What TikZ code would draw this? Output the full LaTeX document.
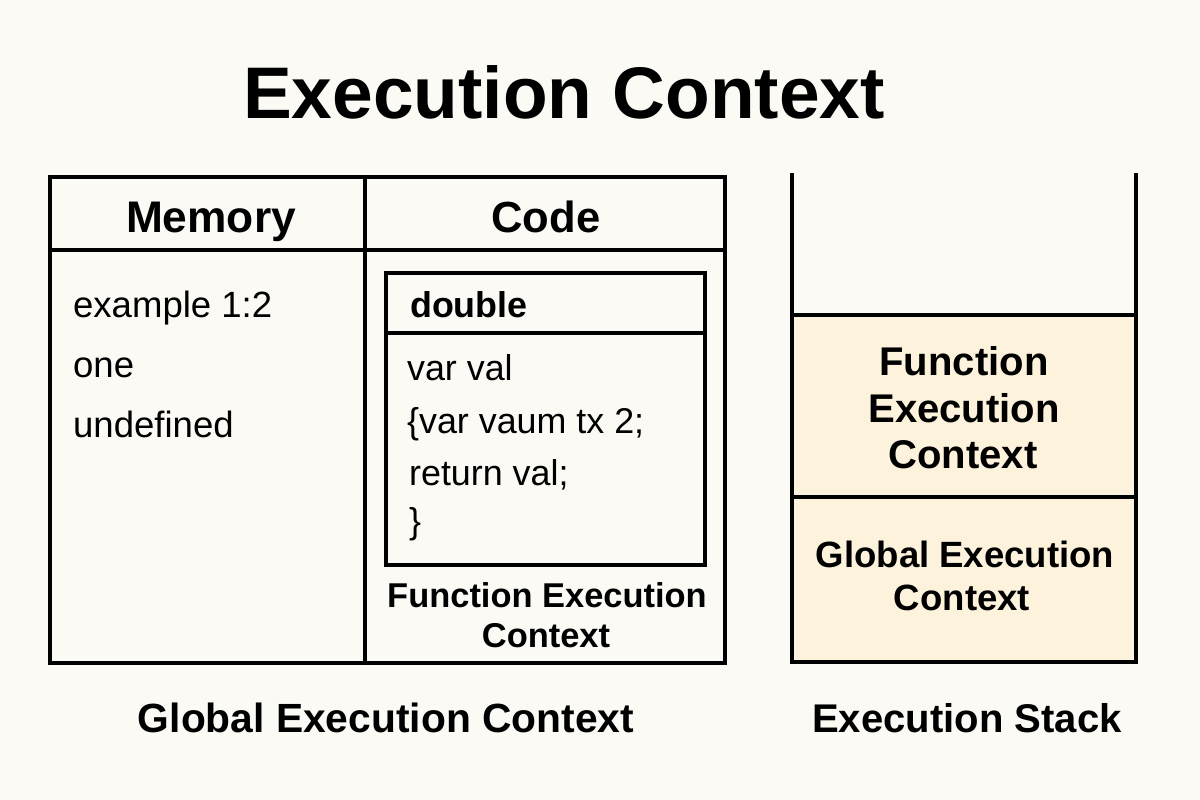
\documentclass[tikz,border=0pt]{standalone}
\usepackage{fontspec}
\setmainfont{Liberation Sans}
\definecolor{bg}{HTML}{FBFAF5}
\definecolor{stackfill}{HTML}{FDF2DC}
\tikzset{
  frame/.style={draw=black, line width=4.3pt},
  stackline/.style={draw=black, line width=5pt},
  txt/.style={inner sep=0pt, anchor=base},
  ltxt/.style={inner sep=0pt, anchor=base west},
}
\begin{document}
\begin{tikzpicture}[x=0.05cm,y=-0.05cm]
\useasboundingbox (0,0) rectangle (1200,800);
\fill[bg] (0,0) rectangle (1200,800);
\node[txt, font=\bfseries\fontsize{104}{120}\selectfont] (title) at (564,118) {Execution Context};
% main table
\draw[frame] (50,177) rectangle (725,663);
\draw[frame] (50,250) -- (725,250);
\draw[frame] (365,177) -- (365,663);
\node[txt, font=\bfseries\fontsize{63}{72}\selectfont] (mem) at (211,232) {Memory};
\node[txt, font=\bfseries\fontsize{62}{72}\selectfont] (code) at (546,232) {Code};
\node[ltxt, font=\fontsize{52}{60}\selectfont] (m1) at (73,317) {example 1:2};
\node[ltxt, font=\fontsize{52}{60}\selectfont] (m2) at (73,377) {one};
\node[ltxt, font=\fontsize{52}{60}\selectfont] (m3) at (73,437) {undefined};
% function box
\draw[frame] (386,273) rectangle (705,565);
\draw[frame] (386,333) -- (705,333);
\node[ltxt, font=\bfseries\fontsize{51}{60}\selectfont] (dbl) at (410,317) {double};
\node[ltxt, font=\fontsize{51}{60}\selectfont] (c1) at (407,380) {var val};
\node[ltxt, font=\fontsize{51}{60}\selectfont] (c2) at (407,433) {\{var vaum tx 2;};
\node[ltxt, font=\fontsize{51}{60}\selectfont] (c3) at (409,485) {return val;};
\node[ltxt, font=\fontsize{51}{60}\selectfont] (c4) at (409,533) {\}};
\node[txt, font=\bfseries\fontsize{49}{58}\selectfont] (fec1) at (547,607) {Function Execution};
\node[txt, font=\bfseries\fontsize{49}{58}\selectfont] (fec2) at (546,647) {Context};
% stack
\fill[stackfill] (792,315) rectangle (1136,662);
\draw[stackline] (792,173) -- (792,662) -- (1136,662) -- (1136,173);
\draw[stackline] (792,315) -- (1136,315);
\draw[stackline] (792,497) -- (1136,497);
\node[txt, font=\bfseries\fontsize{57}{66}\selectfont] (s1) at (964,375) {Function};
\node[txt, font=\bfseries\fontsize{57}{66}\selectfont] (s2) at (964,422) {Execution};
\node[txt, font=\bfseries\fontsize{57}{66}\selectfont] (s3) at (963,468) {Context};
\node[txt, font=\bfseries\fontsize{52}{62}\selectfont] (g1) at (965,567) {Global Execution};
\node[txt, font=\bfseries\fontsize{52}{62}\selectfont] (g2) at (962,610) {Context};
% bottom labels
\node[txt, font=\bfseries\fontsize{58}{68}\selectfont] (gl) at (386,732) {Global Execution Context};
\node[txt, font=\bfseries\fontsize{57}{68}\selectfont] (es) at (967,732) {Execution Stack};
\end{tikzpicture}
\end{document}
